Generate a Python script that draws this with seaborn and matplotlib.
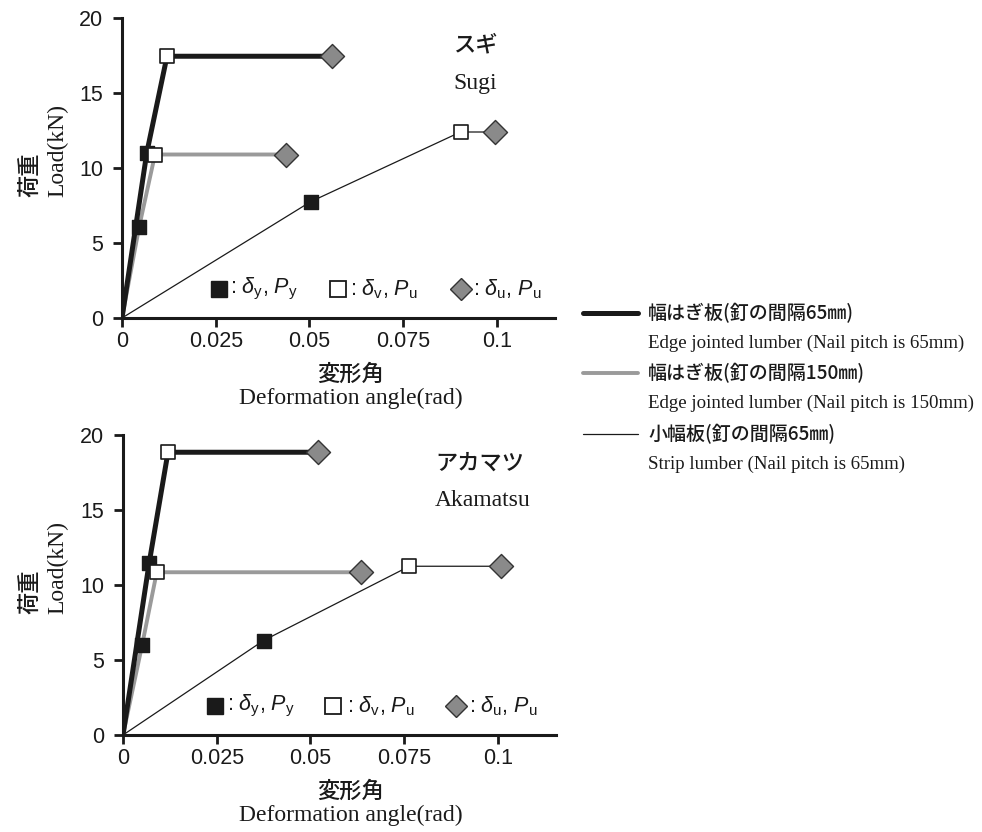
import matplotlib
matplotlib.use("Agg")
import matplotlib.pyplot as plt
import seaborn as sns
import pandas as pd
from matplotlib.lines import Line2D

# ---------------- data ----------------
point_kind = ["origin", "yield", "max", "ultimate"]

sugi_e65_x = [0, 0.0066, 0.0120, 0.0561]
sugi_e65_y = [0, 11.0, 17.45, 17.45]
sugi_e150_x = [0, 0.0046, 0.0088, 0.0437]
sugi_e150_y = [0, 6.1, 10.9, 10.9]
sugi_strip_x = [0, 0.0503, 0.0903, 0.0995]
sugi_strip_y = [0, 7.75, 12.4, 12.4]

aka_e65_x = [0, 0.0070, 0.0120, 0.0521]
aka_e65_y = [0, 11.5, 18.85, 18.85]
aka_e150_x = [0, 0.0051, 0.0090, 0.0635]
aka_e150_y = [0, 6.0, 10.85, 10.85]
aka_strip_x = [0, 0.0375, 0.0764, 0.1008]
aka_strip_y = [0, 6.3, 11.25, 11.25]

x_ticks = [0, 0.025, 0.05, 0.075, 0.1]
x_ticklabels = ["0", "0.025", "0.05", "0.075", "0.1"]
y_ticks = [0, 5, 10, 15, 20]

series_names = ["e65", "e150", "strip"]
legend_jp = ["幅はぎ板(釘の間隔65㎜)", "幅はぎ板(釘の間隔150㎜)", "小幅板(釘の間隔65㎜)"]
legend_en = ["Edge jointed lumber (Nail pitch is 65mm)",
             "Edge jointed lumber (Nail pitch is 150mm)",
             "Strip lumber (Nail pitch is 65mm)"]
species_jp = ["スギ", "アカマツ"]
species_en = ["Sugi", "Akamatsu"]

rows = []
for sp, sets in [("sugi", [(sugi_e65_x, sugi_e65_y), (sugi_e150_x, sugi_e150_y), (sugi_strip_x, sugi_strip_y)]),
                 ("aka", [(aka_e65_x, aka_e65_y), (aka_e150_x, aka_e150_y), (aka_strip_x, aka_strip_y)])]:
    for name, (xs, ys) in zip(series_names, sets):
        for k, xv, yv in zip(point_kind, xs, ys):
            rows.append(dict(species=sp, series=name, kind=k, angle=xv, load=yv))
df = pd.DataFrame(rows)

# ---------------- style ----------------
sns.set_style("ticks")
plt.rcParams["font.family"] = ["Liberation Sans", "DejaVu Sans"]
plt.rcParams["mathtext.fontset"] = "custom"
plt.rcParams["mathtext.rm"] = "Liberation Sans"
plt.rcParams["mathtext.it"] = "Liberation Sans:italic"

W, H = 982, 832
fig = plt.figure(figsize=(W / 100, H / 100), dpi=100)

def F(px, py):
    return px / W, 1 - py / H

JP = ["Noto Sans CJK JP", "DejaVu Sans"]
SERIF = ["Liberation Serif", "DejaVu Serif"]
JPW = 500

line_style = {
    "e65": dict(color="#1a1a1a", lw=3.6, z=4),
    "e150": dict(color="#9a9a9a", lw=2.8, z=3),
    "strip": dict(color="#1a1a1a", lw=0.9, z=2),
}

axes_specs = [
    dict(sp="sugi", left=122, top=18, dy=0, name_left=453, jp_y=45, en_y=83,
         mk=[(0.2233, 0.2494), (0.4977, 0.5266), (0.783, 0.811)]),
    dict(sp="aka", left=123, top=435, dy=417, name_left=435, jp_y=463, en_y=500,
         mk=[(0.212, 0.2407), (0.484, 0.518), (0.7685, 0.7986)]),
]

for i, spec in enumerate(axes_specs):
    x0, y0 = F(spec["left"], spec["top"] + 300)
    ax = fig.add_axes([x0, y0, 433 / W, 300 / H])
    sub = df[df.species == spec["sp"]]
    for name in series_names:
        d = sub[sub.series == name]
        st = line_style[name]
        sns.lineplot(data=d, x="angle", y="load", sort=False, estimator=None,
                     color=st["color"], linewidth=st["lw"], ax=ax, legend=False,
                     zorder=st["z"])
    for name in series_names:
        d = sub[sub.series == name]
        sns.scatterplot(data=d[d.kind == "yield"], x="angle", y="load", marker="s",
                        s=110, color="#1a1a1a", edgecolor="#1a1a1a", linewidth=1,
                        ax=ax, legend=False, zorder=6)
        sns.scatterplot(data=d[d.kind == "max"], x="angle", y="load", marker="s",
                        s=100, color="white", edgecolor="#1a1a1a", linewidth=1.2,
                        ax=ax, legend=False, zorder=6)
        sns.scatterplot(data=d[d.kind == "ultimate"], x="angle", y="load", marker="D",
                        s=150, color="#8a8a8a", edgecolor="#333333", linewidth=1,
                        ax=ax, legend=False, zorder=6)

    ax.set_xlim(0, 0.1155)
    ax.set_ylim(0, 20)
    ax.set_xticks(x_ticks)
    ax.set_xticklabels(x_ticklabels)
    ax.set_yticks(y_ticks)
    ax.set_xlabel("")
    ax.set_ylabel("")
    for s in ["top", "right"]:
        ax.spines[s].set_visible(False)
    for s in ["left", "bottom"]:
        ax.spines[s].set_linewidth(2.2)
        ax.spines[s].set_color("#1a1a1a")
    ax.tick_params(axis="both", direction="out", length=6.5, width=2.0,
                   color="#1a1a1a", labelsize=15.5, labelcolor="#1a1a1a")
    ax.tick_params(axis="y", pad=7)
    ax.tick_params(axis="x", pad=3)
    ax.patch.set_alpha(0)
    for lab in ax.get_xticklabels() + ax.get_yticklabels():
        lab.set_fontfamily(["Liberation Sans"])

    # marker legend inside the axes
    labels = [r": $\delta_{\rm y}$, $P_{\rm y}$", r": $\delta_{\rm v}$, $P_{\rm u}$",
              r": $\delta_{\rm u}$, $P_{\rm u}$"]
    styles = [dict(marker="s", ms=11.5, mfc="#1a1a1a", mec="#1a1a1a"),
              dict(marker="s", ms=11.5, mfc="white", mec="#1a1a1a", mew=1.3),
              dict(marker="D", ms=11, mfc="#8a8a8a", mec="#333333")]
    yf = 0.0967
    for (mx, tx), lab, stl in zip(spec["mk"], labels, styles):
        ax.plot([mx], [yf], transform=ax.transAxes, linestyle="none", zorder=7,
                clip_on=False, **stl)
        ax.text(tx, yf, lab, transform=ax.transAxes, fontsize=15.5, va="center",
                ha="left", color="#1a1a1a", family=["Liberation Sans"])

    # species labels
    fig.text(*F(spec["name_left"], spec["jp_y"]), species_jp[i], family=JP,
             fontsize=16, fontweight=JPW, va="center", ha="left", color="#1a1a1a")
    fig.text(*F(spec["name_left"], spec["en_y"]), species_en[i], family=SERIF,
             fontsize=17, va="center", ha="left", color="#1a1a1a")

    # axis labels
    dy = spec["dy"]
    fig.text(*F(30, 197 + dy), "荷重", family=JP, fontsize=16, fontweight=JPW,
             rotation=90, ha="center", va="bottom", color="#1a1a1a")
    fig.text(*F(58, 197 + dy), "Load(kN)", family=SERIF, fontsize=17,
             rotation=90, ha="center", va="bottom", color="#1a1a1a")
    fig.text(*F(351, 374 + dy), "変形角", family=JP, fontsize=16, fontweight=JPW,
             ha="center", va="center", color="#1a1a1a")
    fig.text(*F(351, 398 + dy), "Deformation angle(rad)", family=SERIF, fontsize=17,
             ha="center", va="center", color="#1a1a1a")

# ---------------- figure legend ----------------
leg_line_y = [313, 373, 434]
leg_en_y = [343, 403, 464]
for name, ly, ey, jp, en in zip(series_names, leg_line_y, leg_en_y, legend_jp, legend_en):
    st = line_style[name]
    xa, ya = F(583, ly)
    xb, _ = F(638, ly)
    fig.add_artist(Line2D([xa, xb], [ya, ya], transform=fig.transFigure,
                          color=st["color"], linewidth=st["lw"]))
    fig.text(*F(648, ly), jp, family=JP, fontsize=13.7, fontweight=JPW,
             ha="left", va="center", color="#1a1a1a")
    fig.text(*F(648, ey), en, family=SERIF, fontsize=13.6, ha="left", va="center",
             color="#1a1a1a")

fig.savefig("out.png", dpi=100)
